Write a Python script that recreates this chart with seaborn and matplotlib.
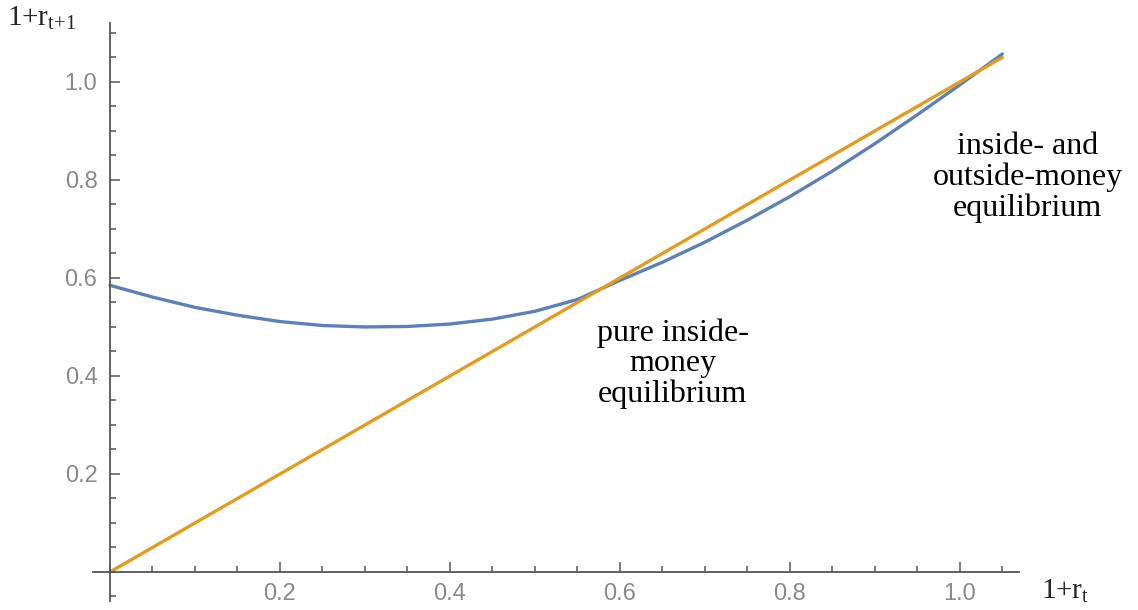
import numpy as np
import pandas as pd
import matplotlib
matplotlib.use('Agg')
import matplotlib.pyplot as plt
import seaborn as sns
from matplotlib.ticker import MultipleLocator, FixedLocator

# values
r_t = [0.0, 0.05, 0.1, 0.15, 0.2, 0.25, 0.3, 0.35, 0.4, 0.45, 0.5,
       0.55, 0.6, 0.65, 0.7, 0.75, 0.8, 0.85, 0.9, 0.95, 1.0, 1.05]
r_next = [0.585, 0.561, 0.540, 0.524, 0.511, 0.503, 0.500, 0.501, 0.506, 0.516, 0.532,
          0.556, 0.595, 0.632, 0.673, 0.718, 0.766, 0.818, 0.874, 0.933, 0.994, 1.057]
diag_x = [0.0, 1.05]
diag_y = [0.0, 1.05]

x_major = [0.2, 0.4, 0.6, 0.8, 1.0]
y_major = [0.2, 0.4, 0.6, 0.8, 1.0]
label_pure = "pure inside-\nmoney\nequilibrium"
label_both = "inside- and\noutside-money\nequilibrium"

blue = '#5e81b5'
orange = '#e19c24'
axis_gray = '#555555'
tick_gray = '#8a8a8a'

sns.set_style('ticks')
plt.rcParams['font.family'] = ['Liberation Serif', 'DejaVu Serif']
plt.rcParams['mathtext.fontset'] = 'custom'
plt.rcParams['mathtext.rm'] = 'Liberation Serif'
plt.rcParams['mathtext.it'] = 'Liberation Serif:italic'

fig = plt.figure(figsize=(11.38, 6.1), dpi=100)
ax = fig.add_axes([0.0817, 0.0141, 0.814, 0.948])

curve = pd.DataFrame({'x': r_t, 'y': r_next})
line = pd.DataFrame({'x': diag_x, 'y': diag_y})
sns.lineplot(data=curve, x='x', y='y', color=blue, lw=2.4, ax=ax)
sns.lineplot(data=line, x='x', y='y', color=orange, lw=2.4, ax=ax)

ax.set_xlim(-0.02, 1.07)
ax.set_ylim(-0.06, 1.12)

for side in ['top', 'right']:
    ax.spines[side].set_visible(False)
for side in ['left', 'bottom']:
    ax.spines[side].set_position(('data', 0))
    ax.spines[side].set_color(axis_gray)
    ax.spines[side].set_linewidth(1.3)

ax.xaxis.set_major_locator(FixedLocator(x_major))
ax.yaxis.set_major_locator(FixedLocator(y_major))
ax.xaxis.set_minor_locator(MultipleLocator(0.05))
ax.yaxis.set_minor_locator(MultipleLocator(0.05))
ax.set_xticklabels([f'{v:.1f}' for v in x_major])
ax.set_yticklabels([f'{v:.1f}' for v in y_major])
ax.tick_params(which='both', direction='in', color=axis_gray, width=1.1,
               bottom=True, left=True)
ax.tick_params(which='major', length=7)
ax.tick_params(which='minor', length=4)
ax.tick_params(axis='x', which='major', pad=8)
ax.tick_params(axis='y', which='major', pad=9)
for lab in ax.get_xticklabels() + ax.get_yticklabels():
    lab.set_family('Liberation Sans')
    lab.set_fontsize(17)
    lab.set_color(tick_gray)

ax.set_xlabel('')
ax.set_ylabel('')

ax.text(0.662, 0.425, label_pure, ha='center', va='center', ma='center',
        fontsize=23, linespacing=1.05, color='black')
ax.text(1.08, 0.805, label_both, ha='center', va='center', ma='center',
        fontsize=23, linespacing=1.05, color='black')

fig.text(0.006, 0.958, r'$\mathrm{1{+}r_{t{+}1}}$', fontsize=21, ha='left', va='baseline')
fig.text(0.915, 0.018, r'$\mathrm{1{+}r_{t}}$', fontsize=21, ha='left', va='baseline')

fig.savefig('out.png', dpi=100)
